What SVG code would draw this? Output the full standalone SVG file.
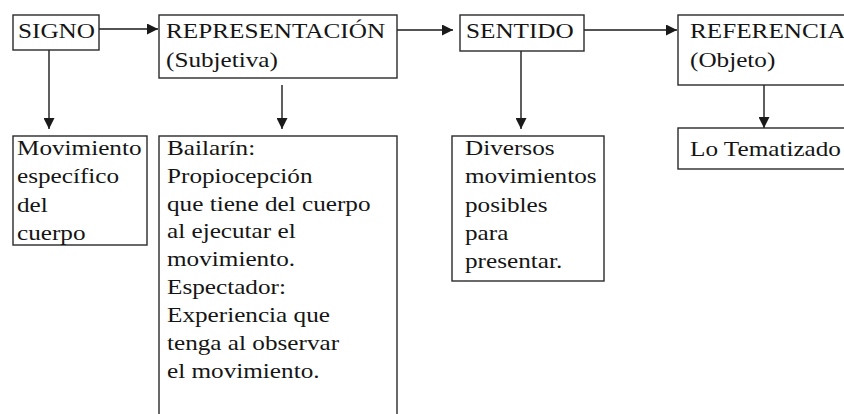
<svg xmlns="http://www.w3.org/2000/svg" width="844" height="414" viewBox="0 0 844 414">
<style>
  .box { fill: #ffffff; stroke: #2a2a2a; stroke-width: 1.4; }
  .t { font-family: "Liberation Serif", "Times New Roman", serif; font-size: 21px; fill: #151515; }
  .conn { stroke: #1a1a1a; stroke-width: 1.4; fill: none; marker-end: url(#arrow); }
</style>
<defs>
  <marker id="arrow" markerUnits="userSpaceOnUse" markerWidth="11" markerHeight="11" refX="11" refY="5.5" orient="auto">
    <path d="M0,0 L11,5.5 L0,11 z" fill="#1a1a1a"/>
  </marker>
</defs>
<rect width="844" height="414" fill="#ffffff"/>

<g id="connectors">
  <line class="conn" x1="99" y1="29" x2="158" y2="29"/>
  <line class="conn" x1="397" y1="30" x2="453" y2="30"/>
  <line class="conn" x1="584" y1="30" x2="677" y2="30"/>
  <line class="conn" x1="49" y1="50" x2="49" y2="129"/>
  <line class="conn" x1="282" y1="85" x2="282" y2="129"/>
  <line class="conn" x1="521" y1="51" x2="521" y2="129"/>
  <line class="conn" x1="764" y1="85" x2="764" y2="128"/>
</g>

<g id="signo">
  <rect class="box" x="13" y="15" width="86" height="35"/>
  <text class="t" transform="translate(18,38) scale(1.2,1)">SIGNO</text>
</g>

<g id="representacion">
  <rect class="box" x="159" y="15" width="238" height="63"/>
  <text class="t" transform="translate(166,38) scale(1.2,1)"><tspan x="0" y="0">REPRESENTACIÓN</tspan><tspan x="0" y="29">(Subjetiva)</tspan></text>
</g>

<g id="sentido">
  <rect class="box" x="460" y="15" width="124" height="36"/>
  <text class="t" transform="translate(466,38) scale(1.2,1)">SENTIDO</text>
</g>

<g id="referencia">
  <rect class="box" x="678" y="15" width="180" height="70"/>
  <text class="t" transform="translate(690,38) scale(1.2,1)"><tspan x="0" y="0">REFERENCIA</tspan><tspan x="0" y="29">(Objeto)</tspan></text>
</g>

<g id="movimiento">
  <rect class="box" x="13" y="136" width="134" height="109"/>
  <text class="t" transform="translate(17,155) scale(1.2,1)"><tspan x="0" y="0">Movimiento</tspan><tspan x="0" y="28">específico</tspan><tspan x="0" y="57">del</tspan><tspan x="0" y="85">cuerpo</tspan></text>
</g>

<g id="bailarin">
  <rect class="box" x="159" y="136" width="238" height="290"/>
  <text class="t" transform="translate(167,155) scale(1.2,1)"><tspan x="0" y="0">Bailarín:</tspan><tspan x="0" y="28">Propiocepción</tspan><tspan x="0" y="56">que tiene del cuerpo</tspan><tspan x="0" y="83">al ejecutar el</tspan><tspan x="0" y="111">movimiento.</tspan><tspan x="0" y="139">Espectador:</tspan><tspan x="0" y="167">Experiencia que</tspan><tspan x="0" y="195">tenga al observar</tspan><tspan x="0" y="223">el movimiento.</tspan></text>
</g>

<g id="diversos">
  <rect class="box" x="452" y="136" width="152" height="145"/>
  <text class="t" transform="translate(465,155) scale(1.2,1)"><tspan x="0" y="0">Diversos</tspan><tspan x="0" y="28">movimientos</tspan><tspan x="0" y="57">posibles</tspan><tspan x="0" y="85">para</tspan><tspan x="0" y="113">presentar.</tspan></text>
</g>

<g id="tematizado">
  <rect class="box" x="678" y="128" width="180" height="41"/>
  <text class="t" transform="translate(690,156) scale(1.2,1)">Lo Tematizado</text>
</g>
</svg>
